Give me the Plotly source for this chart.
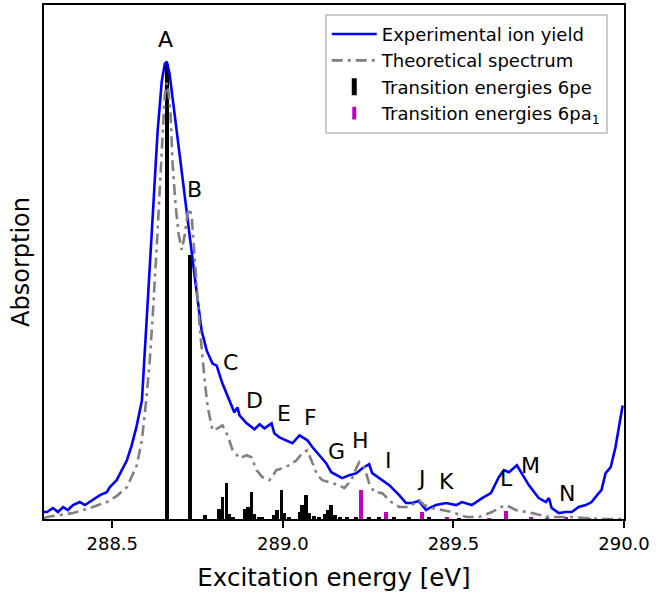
import plotly.graph_objects as go

# Experimental ion yield
exp_energy = [288.300, 288.309, 288.326, 288.341, 288.356, 288.370, 288.385, 288.405, 288.420, 288.443,
              288.464, 288.484, 288.493, 288.513, 288.528, 288.543, 288.557, 288.572, 288.587, 288.601,
              288.610, 288.619, 288.627, 288.633, 288.645, 288.654, 288.660, 288.668, 288.683, 288.698,
              288.712, 288.733, 288.747, 288.762, 288.777, 288.794, 288.806, 288.823, 288.844, 288.858,
              288.867, 288.873, 288.894, 288.917, 288.932, 288.946, 288.967, 288.975, 288.990, 289.011,
              289.028, 289.049, 289.057, 289.072, 289.087, 289.107, 289.127, 289.142, 289.157, 289.174,
              289.195, 289.216, 289.233, 289.253, 289.262, 289.282, 289.312, 289.341, 289.361, 289.379,
              289.399, 289.420, 289.429, 289.449, 289.478, 289.508, 289.525, 289.554, 289.584, 289.610,
              289.633, 289.648, 289.663, 289.686, 289.701, 289.721, 289.750, 289.771, 289.780, 289.788,
              289.809, 289.829, 289.847, 289.867, 289.888, 289.905, 289.926, 289.934, 289.946, 289.961,
              289.975, 289.987, 289.996]
exp_yield = [0.014, 0.014, 0.022, 0.014, 0.024, 0.018, 0.028, 0.034, 0.028, 0.038,
             0.048, 0.054, 0.064, 0.078, 0.098, 0.118, 0.148, 0.188, 0.238, 0.392,
             0.508, 0.612, 0.708, 0.778, 0.878, 0.914, 0.918, 0.894, 0.812, 0.728,
             0.644, 0.538, 0.458, 0.378, 0.338, 0.312, 0.308, 0.272, 0.238, 0.214,
             0.224, 0.208, 0.192, 0.180, 0.190, 0.182, 0.192, 0.172, 0.164, 0.158,
             0.152, 0.168, 0.164, 0.158, 0.144, 0.128, 0.112, 0.094, 0.088, 0.082,
             0.088, 0.092, 0.102, 0.110, 0.092, 0.082, 0.068, 0.048, 0.032, 0.032,
             0.036, 0.018, 0.022, 0.028, 0.032, 0.028, 0.034, 0.028, 0.042, 0.052,
             0.084, 0.098, 0.094, 0.108, 0.092, 0.068, 0.042, 0.034, 0.042, 0.022,
             0.012, 0.014, 0.014, 0.024, 0.028, 0.034, 0.052, 0.058, 0.092, 0.104,
             0.144, 0.188, 0.228]

# Theoretical spectrum
theo_energy = [288.300, 288.309, 288.347, 288.385, 288.435, 288.484, 288.513, 288.543, 288.572, 288.587,
               288.601, 288.610, 288.619, 288.627, 288.633, 288.642, 288.648, 288.654, 288.660, 288.665,
               288.671, 288.677, 288.686, 288.695, 288.704, 288.712, 288.721, 288.727, 288.733, 288.742,
               288.756, 288.771, 288.780, 288.794, 288.809, 288.823, 288.838, 288.853, 288.873, 288.894,
               288.908, 288.923, 288.940, 288.961, 288.981, 288.999, 289.019, 289.040, 289.057, 289.072,
               289.087, 289.101, 289.116, 289.136, 289.165, 289.180, 289.201, 289.215, 289.224, 289.239,
               289.253, 289.268, 289.291, 289.318, 289.341, 289.370, 289.399, 289.414, 289.437, 289.467,
               289.496, 289.537, 289.575, 289.613, 289.633, 289.654, 289.683, 289.730, 289.780, 289.847,
               289.926, 289.996]
theo_intensity = [0.002, 0.004, 0.008, 0.012, 0.022, 0.034, 0.046, 0.064, 0.108, 0.158,
                  0.248, 0.318, 0.412, 0.498, 0.578, 0.698, 0.788, 0.850, 0.876, 0.858,
                  0.812, 0.712, 0.628, 0.570, 0.540, 0.568, 0.614, 0.624, 0.608, 0.518,
                  0.388, 0.278, 0.224, 0.178, 0.182, 0.188, 0.168, 0.138, 0.122, 0.128,
                  0.124, 0.098, 0.084, 0.078, 0.098, 0.102, 0.108, 0.118, 0.132, 0.138,
                  0.112, 0.088, 0.078, 0.074, 0.068, 0.062, 0.078, 0.102, 0.114, 0.104,
                  0.072, 0.054, 0.052, 0.034, 0.024, 0.024, 0.038, 0.028, 0.022, 0.018,
                  0.014, 0.004, 0.004, 0.014, 0.022, 0.028, 0.018, 0.012, 0.004, 0.004,
                  0.0, 0.0]

# Transition energies 6pe
pe_energy = [288.660, 288.727, 288.771,
             288.813, 288.823, 288.835, 288.844, 288.855,
             288.888, 288.897, 288.908, 288.917, 288.929, 288.940,
             288.975, 288.984, 288.996, 289.005, 289.019,
             289.049, 289.057, 289.069, 289.078, 289.092, 289.107,
             289.122, 289.133, 289.142, 289.154, 289.168, 289.189,
             289.215, 289.253, 289.282, 289.326, 289.370, 289.429, 289.516]
pe_intensity = [0.914, 0.530, 0.008,
                0.020, 0.044, 0.072, 0.010, 0.004,
                0.020, 0.024, 0.054, 0.010, 0.004, 0.004,
                0.008, 0.018, 0.058, 0.012, 0.004,
                0.014, 0.028, 0.048, 0.012, 0.006, 0.004,
                0.010, 0.018, 0.028, 0.008, 0.004, 0.004,
                0.004, 0.003, 0.003, 0.004, 0.004, 0.004, 0.002]

# Transition energies 6pa1
pa_energy = [289.230, 289.303, 289.408, 289.481, 289.604, 289.654, 289.727, 289.774, 289.829, 289.897, 289.955]
pa_intensity = [0.058, 0.014, 0.014, 0.004, 0.002, 0.016, 0.004, 0.002, 0.003, 0.002, 0.002]

# Peak labels
peak_labels = ["A", "B", "C", "D", "E", "F", "G", "H", "I", "J", "K", "L", "M", "N"]
peak_label_energy = [288.657, 288.742, 288.847, 288.917, 289.002, 289.081, 289.157,
                     289.227, 289.309, 289.405, 289.481, 289.657, 289.727, 289.832]
peak_label_y = [0.962, 0.662, 0.314, 0.238, 0.212, 0.204, 0.136,
                0.158, 0.118, 0.082, 0.076, 0.082, 0.108, 0.052]

FONT = "DejaVu Sans"

fig = go.Figure()

fig.add_trace(go.Scatter(
    x=exp_energy, y=exp_yield, mode="lines",
    line=dict(color="#0000ff", width=2.6),
    name="Experimental ion yield", legendgroup="g1"))

fig.add_trace(go.Scatter(
    x=theo_energy, y=theo_intensity, mode="lines",
    line=dict(color="#808080", width=2.6, dash="11px,5px,3px,5px"),
    name="Theoretical spectrum", legendgroup="g2"))

fig.add_trace(go.Bar(
    x=pe_energy, y=pe_intensity, width=0.011,
    marker=dict(color="black", line=dict(width=0)),
    showlegend=False, legendgroup="g3", name="6pe"))

fig.add_trace(go.Bar(
    x=pa_energy, y=pa_intensity, width=0.011,
    marker=dict(color="#bf00bf", line=dict(width=0)),
    showlegend=False, legendgroup="g4", name="6pa1"))

# legend-only entries for the sticks
fig.add_trace(go.Scatter(
    x=[None], y=[None], mode="markers",
    marker=dict(symbol="line-ns", size=12, line=dict(color="black", width=5)),
    name="Transition energies 6pe", legendgroup="g3"))
fig.add_trace(go.Scatter(
    x=[None], y=[None], mode="markers",
    marker=dict(symbol="line-ns", size=9, line=dict(color="#bf00bf", width=4)),
    name="Transition energies 6pa<sub>1</sub>", legendgroup="g4"))

for lab, ex, ey in zip(peak_labels, peak_label_energy, peak_label_y):
    fig.add_annotation(x=ex, y=ey, text=lab, showarrow=False,
                       font=dict(family=FONT, size=22, color="black"),
                       xanchor="center", yanchor="middle")

fig.update_layout(
    width=661, height=608,
    margin=dict(l=44, r=37, t=3, b=89),
    paper_bgcolor="white", plot_bgcolor="white",
    barmode="overlay", bargap=0,
    font=dict(family=FONT, color="black"),
    showlegend=True,
    legend=dict(
        x=0.972, y=0.983, xanchor="right", yanchor="top",
        bgcolor="white", bordercolor="#cccccc", borderwidth=2,
        font=dict(family=FONT, size=18, color="black"),
        traceorder="grouped", tracegroupgap=0, itemwidth=45,
    ),
    xaxis=dict(
        range=[288.3, 290.0], tick0=288.5, dtick=0.5, tickformat=".1f",
        ticks="outside", ticklen=7, tickwidth=2, tickcolor="black",
        showline=True, linecolor="black", linewidth=2, mirror=True,
        showgrid=False, zeroline=False,
        tickfont=dict(family=FONT, size=18, color="black"),
        title=dict(text="Excitation energy [eV]", font=dict(family=FONT, size=24.5, color="black"), standoff=16),
    ),
    yaxis=dict(
        range=[0, 1.032],
        showticklabels=False, ticks="",
        showline=True, linecolor="black", linewidth=2, mirror=True,
        showgrid=False, zeroline=False,
        title=dict(text="Absorption", font=dict(family=FONT, size=24, color="black"), standoff=6),
    ),
)

fig.write_html("out.html", post_script="document.body.style.margin='0px';",
               config={"displayModeBar": False})
